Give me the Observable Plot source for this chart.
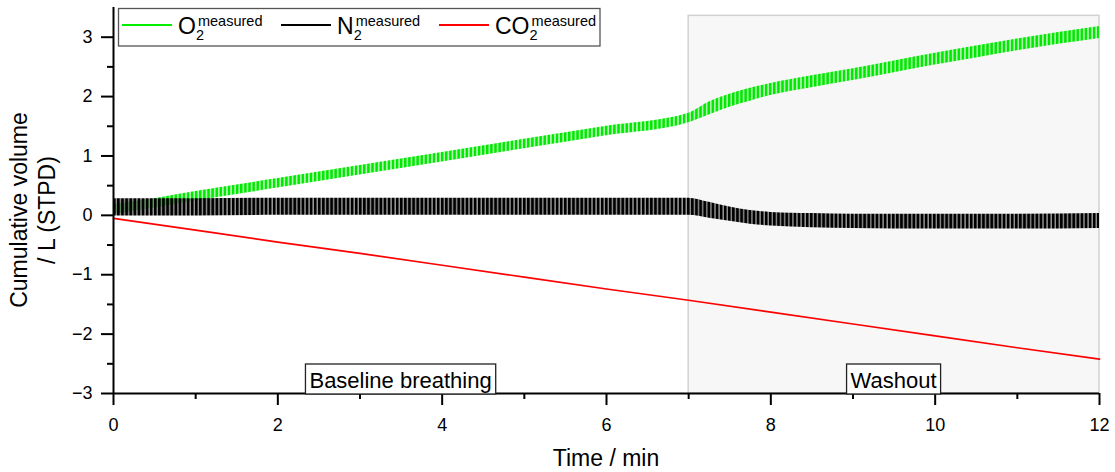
<!DOCTYPE html>
<html>
<head>
<meta charset="utf-8">
<script src="https://cdn.jsdelivr.net/npm/d3@7"></script>
<script src="https://cdn.jsdelivr.net/npm/@observablehq/plot@0.6"></script>
<style>
  html, body { margin: 0; padding: 0; background: #fff; }
  #chart { width: 1115px; height: 472px; }
</style>
</head>
<body>
<div id="chart"></div>
<script>
// ---- Data ----
// O2 band (breath-by-breath oscillation envelope)
const o2Time = [0, 0.5, 1, 1.5, 2, 3, 4, 5, 6, 7, 7.25, 7.5, 7.75, 8, 8.5, 9, 9.5, 10, 10.5, 11, 11.5, 12];
const o2Low  = [0.02, 0.12, 0.24, 0.35, 0.46, 0.68, 0.90, 1.12, 1.34, 1.56, 1.69, 1.82, 1.92, 2.02, 2.15, 2.27, 2.40, 2.53, 2.65, 2.77, 2.88, 2.98];
const o2High = [0.18, 0.28, 0.40, 0.51, 0.62, 0.84, 1.06, 1.28, 1.50, 1.72, 1.91, 2.04, 2.14, 2.22, 2.35, 2.47, 2.60, 2.73, 2.85, 2.97, 3.08, 3.18];
// N2 band
const n2Time = [0, 1, 2, 3, 4, 5, 6, 7, 7.25, 7.5, 7.75, 8, 8.5, 9, 10, 11, 12];
const n2Low  = [-0.01, -0.01, 0.0, 0.0, 0.0, 0.0, 0.0, 0.0, -0.05, -0.10, -0.15, -0.18, -0.21, -0.22, -0.23, -0.23, -0.22];
const n2High = [0.28, 0.28, 0.29, 0.29, 0.29, 0.29, 0.29, 0.29, 0.22, 0.14, 0.08, 0.05, 0.03, 0.02, 0.02, 0.02, 0.03];
// CO2 line
const co2Time  = [0, 1, 2, 3, 4, 5, 6, 7, 8, 9, 10, 11, 12];
const co2Value = [-0.05, -0.25, -0.45, -0.64, -0.84, -1.04, -1.24, -1.43, -1.63, -1.83, -2.03, -2.23, -2.42];
// Phases
const phaseNames = ["Baseline breathing", "Washout"];
const phaseStart = [0, 7];
const phaseEnd   = [7, 12];
const shadeTop = 3.36;
// Ticks
const xMajor = [0, 2, 4, 6, 8, 10, 12];
const xMinor = [1, 3, 5, 7, 9, 11];
const yMajor = [-3, -2, -1, 0, 1, 2, 3];
const yMinor = [-2.5, -1.5, -0.5, 0.5, 1.5, 2.5];
// Legend
const seriesNames = ["O", "N", "CO"];
const seriesColors = ["#00ee00", "#000000", "#ff0000"];

// ---- Tables ----
const o2 = o2Time.map((t, i) => ({t, lo: o2Low[i], hi: o2High[i]}));
const n2 = n2Time.map((t, i) => ({t, lo: n2Low[i], hi: n2High[i]}));
const co2 = co2Time.map((t, i) => ({t, v: co2Value[i]}));
const phases = phaseNames.map((name, i) => ({name, start: phaseStart[i], end: phaseEnd[i]}));

const FONT = "'Liberation Sans', Arial, Helvetica, sans-serif";
const fmt = d => d < 0 ? "\u2212" + Math.abs(d) : String(d);

const plot = Plot.plot({
  width: 1115,
  height: 472,
  marginLeft: 113,
  marginRight: 16,
  marginTop: 7,
  marginBottom: 79,
  style: {fontFamily: FONT, fontSize: "18px", color: "#000", background: "#fff"},
  x: {domain: [0, 12]},
  y: {domain: [-3, 3.5]},
  marks: [
    Plot.rect(phases.slice(1), {x1: "start", x2: "end", y1: -3, y2: shadeTop, fill: "#f7f7f7", stroke: "#d2d2d2", strokeWidth: 1.5}),
    Plot.areaY(o2, {x: "t", y1: "lo", y2: "hi", fill: "url(#patO2)", curve: "monotone-x"}),
    Plot.areaY(n2, {x: "t", y1: "lo", y2: "hi", fill: "url(#patN2)", curve: "monotone-x"}),
    Plot.line(co2, {x: "t", y: "v", stroke: seriesColors[2], strokeWidth: 1.7}),
    Plot.axisX({ticks: xMajor, tickSize: 12, tickPadding: 13, strokeWidth: 2, label: null, fontSize: 18, tickFormat: fmt}),
    Plot.axisX({ticks: xMinor, tickSize: 6, strokeWidth: 2, label: null, tickFormat: () => ""}),
    Plot.axisY({ticks: yMajor, tickSize: 12, tickPadding: 9, strokeWidth: 2, label: null, fontSize: 18, tickFormat: fmt}),
    Plot.axisY({ticks: yMinor, tickSize: 6, strokeWidth: 2, label: null, tickFormat: () => ""}),
    Plot.ruleX([0], {strokeWidth: 2}),
    Plot.ruleY([-3], {strokeWidth: 2})
  ]
});

document.getElementById("chart").appendChild(plot);

const svg = d3.select(plot);
const sx = plot.scale("x"), sy = plot.scale("y");

// patterns for breath oscillation texture
const defs = svg.insert("defs", ":first-child");
const pg = defs.append("pattern").attr("id", "patO2").attr("patternUnits", "userSpaceOnUse")
  .attr("x", sx.apply(0)).attr("y", 0).attr("width", 4.1).attr("height", 20);
pg.append("rect").attr("width", 4.1).attr("height", 20).attr("fill", "rgba(0,230,0,0.3)");
pg.append("rect").attr("width", 2.4).attr("height", 20).attr("fill", "#00e800");
const pn = defs.append("pattern").attr("id", "patN2").attr("patternUnits", "userSpaceOnUse")
  .attr("x", sx.apply(0)).attr("y", 0).attr("width", 4.1).attr("height", 20);
pn.append("rect").attr("width", 4.1).attr("height", 20).attr("fill", "rgba(0,0,0,0.4)");
pn.append("rect").attr("width", 2.7).attr("height", 20).attr("fill", "#000");

// phase labels with boxes
const yBase = sy.apply(-3);
phases.forEach(p => {
  const g = svg.append("g");
  const cx = sx.apply((p.start + p.end) / 2);
  const txt = g.append("text").attr("x", cx).attr("y", yBase - 5.5)
    .attr("text-anchor", "middle").attr("font-family", FONT).attr("font-size", 22).attr("fill", "#000").text(p.name);
  const bb = txt.node().getBBox();
  g.insert("rect", "text").attr("x", bb.x - 4).attr("y", yBase - 29).attr("width", bb.width + 8).attr("height", 30)
    .attr("fill", "#fff").attr("stroke", "#222").attr("stroke-width", 1.3);
});

// axis titles
svg.append("text").attr("x", (sx.apply(0) + sx.apply(12)) / 2).attr("y", 466)
  .attr("text-anchor", "middle").attr("font-family", FONT).attr("font-size", 23).text("Time / min");
const yt = svg.append("text").attr("transform", "translate(27,210) rotate(-90)")
  .attr("text-anchor", "middle").attr("font-family", FONT).attr("font-size", 23);
yt.append("tspan").attr("x", 0).attr("y", 0).text("Cumulative volume");
yt.append("tspan").attr("x", 0).attr("y", 28).text("/ L (STPD)");

// legend
const lg = svg.append("g");
lg.append("rect").attr("x", 118.5).attr("y", 8.5).attr("width", 481.5).attr("height", 37.5)
  .attr("fill", "#fff").attr("stroke", "#555").attr("stroke-width", 1.3);
const entryX = [122, 281, 439];
seriesNames.forEach((name, i) => {
  const x0 = entryX[i];
  lg.append("line").attr("x1", x0).attr("x2", x0 + 50).attr("y1", 25).attr("y2", 25)
    .attr("stroke", seriesColors[i]).attr("stroke-width", 2);
  const t = lg.append("text").attr("x", x0 + 56).attr("y", 34).attr("text-anchor", "start")
    .attr("font-family", FONT).attr("font-size", 23).attr("fill", "#000");
  t.append("tspan").text(name);
  t.append("tspan").attr("font-size", 14.5).attr("dy", 6).text("2");
  t.append("tspan").attr("font-size", 14.5).attr("dx", -6).attr("dy", -14).text("measured");
});
</script>
</body>
</html>
